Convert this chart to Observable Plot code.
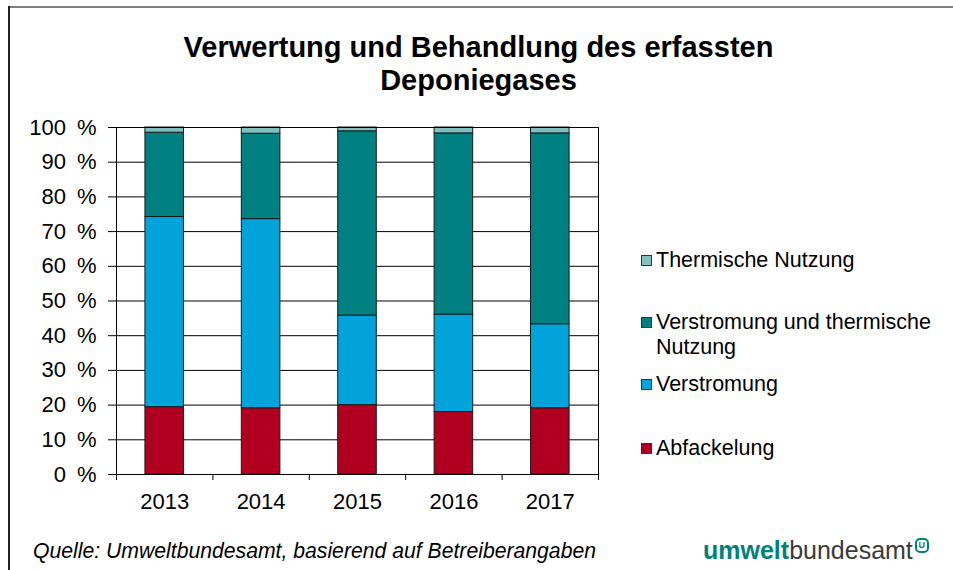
<!DOCTYPE html>
<html>
<head>
<meta charset="utf-8">
<script src="https://cdn.jsdelivr.net/npm/d3@7"></script>
<script src="https://cdn.jsdelivr.net/npm/@observablehq/plot@0.6"></script>
<style>
  html, body { margin: 0; padding: 0; background: #fff; }
  #wrap { position: relative; width: 953px; height: 570px; overflow: hidden; font-family: "Liberation Sans", Arial, sans-serif; color: #000; }
  #frameTop { position: absolute; left: 9px; top: 6px; width: 944px; height: 0; border-top: 2px solid #808080; }
  #frameLeft { position: absolute; left: 8px; top: 6px; width: 0; height: 570px; border-left: 2px solid #222; }
  #chart { position: absolute; left: 0; top: 0; }
  #title { position: absolute; left: 0; top: 31px; width: 957px; text-align: center; font-weight: bold; font-size: 29px; line-height: 33px; }
  .leg { position: absolute; left: 641px; font-size: 21.5px; line-height: 25px; }
  .leg .sw { position: absolute; left: 0; top: 7px; width: 9px; height: 9px; border: 1px solid #333; }
  .leg .tx { margin-left: 15px; }
  #caption { position: absolute; left: 33px; top: 539px; font-style: italic; font-size: 21.2px; line-height: 24px; }
  #logo { position: absolute; left: 703px; top: 535px; font-size: 25px; line-height: 30px; color: #3a3a3a; }
  #logo b { color: #00827a; }
  #logo .u { display: inline-block; position: relative; top: -11px; margin-left: 2px; width: 10px; height: 11px; border: 2px solid #00827a; border-radius: 5px; font-size: 9px; line-height: 10px; text-align: center; color: #00827a; font-weight: bold; }
</style>
</head>
<body>
<div id="wrap">
  <div id="frameTop"></div>
  <div id="frameLeft"></div>
  <div id="chart"></div>
  <div id="title">Verwertung und Behandlung des erfassten<br>Deponiegases</div>
  <div id="legend"></div>
  <div id="caption">Quelle: Umweltbundesamt, basierend auf Betreiberangaben</div>
  <div id="logo"><b>umwelt</b>bundesamt<span class="u">U</span></div>
</div>
<script>
// ---- data ----
const years = [2013, 2014, 2015, 2016, 2017];
const seriesNames = ["Abfackelung", "Verstromung", "Verstromung und thermische Nutzung", "Thermische Nutzung"];
const seriesColors = ["#b1001f", "#00a3da", "#008080", "#80c1bf"];
const abfackelung = [19.4, 19.1, 20.0, 18.0, 19.1];
const verstromung = [54.8, 54.5, 25.8, 28.1, 24.2];
const verstromungThermisch = [24.3, 24.6, 53.1, 52.2, 55.0];
const thermischeNutzung = [1.5, 1.8, 1.1, 1.7, 1.7];
const yTicks = [0, 10, 20, 30, 40, 50, 60, 70, 80, 90, 100];
const xBoundaries = [2012.5, 2013.5, 2014.5, 2015.5, 2016.5, 2017.5];

const seriesValues = [abfackelung, verstromung, verstromungThermisch, thermischeNutzung];
const data = [];
years.forEach((year, i) => {
  seriesNames.forEach((name, s) => {
    data.push({year, series: name, value: seriesValues[s][i]});
  });
});

const halfBar = 0.2;
const chart = Plot.plot({
  width: 953,
  height: 570,
  marginLeft: 116,
  marginRight: 355,
  marginTop: 127,
  marginBottom: 96,
  style: {fontFamily: "Liberation Sans, Arial, sans-serif", fontSize: "22px", color: "#000", background: "transparent"},
  x: {type: "linear", domain: [2012.5, 2017.5], label: null},
  y: {domain: [0, 100], label: null},
  color: {domain: seriesNames, range: seriesColors},
  marks: [
    Plot.gridY(yTicks, {stroke: "#000", strokeOpacity: 1, strokeWidth: 1}),
    Plot.rectY(data, Plot.stackY({
      x1: d => d.year - halfBar,
      x2: d => d.year + halfBar,
      y: "value",
      fill: "series",
      stroke: "#1a1a1a",
      strokeWidth: 1
    })),
    Plot.frame({stroke: "#000", strokeWidth: 1}),
    Plot.axisY({ticks: yTicks, tickFormat: d => d + "\u2002%", tickSize: 8, tickPadding: 12, fontSize: 22, stroke: "#000", label: null}),
    Plot.axisX({ticks: xBoundaries, tickFormat: () => "", tickSize: 6, stroke: "#000", label: null}),
    Plot.axisX({ticks: years, tickFormat: d => String(d), tickSize: 0, tickPadding: 19, fontSize: 22, label: null})
  ]
});
document.getElementById("chart").appendChild(chart);

// ---- legend (top to bottom) ----
const legendRows = [
  {idx: 3, top: 248, label: "Thermische Nutzung"},
  {idx: 2, top: 310, label: "Verstromung und thermische<br>Nutzung"},
  {idx: 1, top: 372, label: "Verstromung"},
  {idx: 0, top: 436, label: "Abfackelung"}
];
const legend = document.getElementById("legend");
legendRows.forEach(r => {
  const el = document.createElement("div");
  el.className = "leg";
  el.style.top = r.top + "px";
  el.innerHTML = `<span class="sw" style="background:${seriesColors[r.idx]}"></span><div class="tx">${r.label}</div>`;
  legend.appendChild(el);
});
</script>
</body>
</html>
